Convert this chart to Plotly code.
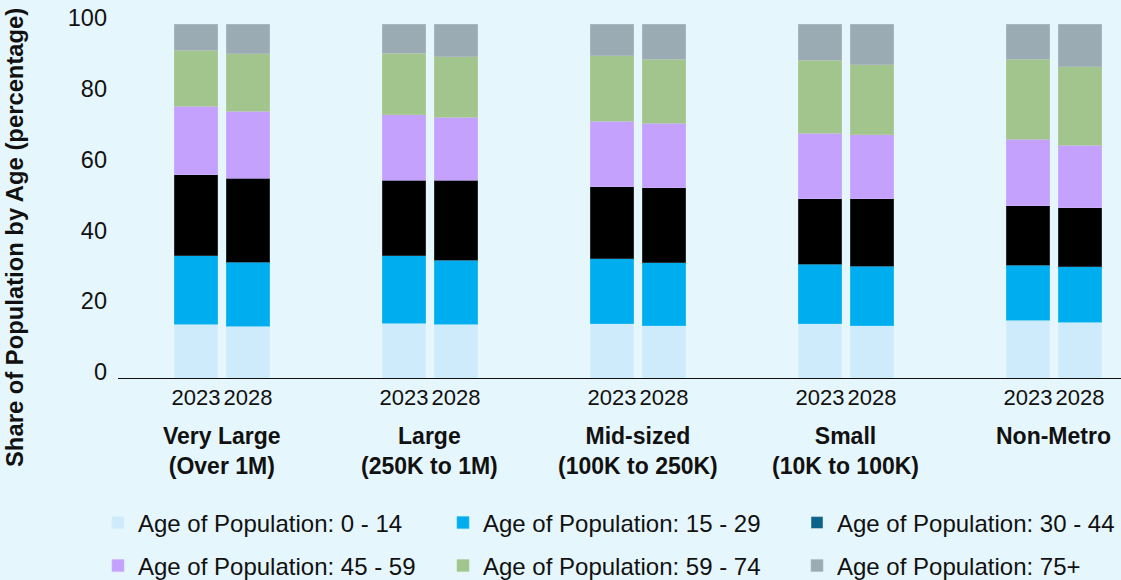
import plotly.graph_objects as go

# ---- data ----
groups = ["Very Large<br>(Over 1M)", "Large<br>(250K to 1M)", "Mid-sized<br>(100K to 250K)",
          "Small<br>(10K to 100K)", "Non-Metro"]
years = ["2023", "2028"]
series_names = ["Age of Population: 0 - 14", "Age of Population: 15 - 29",
                "Age of Population: 30 - 44", "Age of Population: 45 - 59",
                "Age of Population: 59 - 74", "Age of Population: 75+"]
# order: VL23, VL28, L23, L28, M23, M28, S23, S28, NM23, NM28
age_0_14 = [15.2, 14.6, 15.5, 15.2, 15.3, 14.7, 15.3, 14.7, 16.3, 15.8]
age_15_29 = [19.3, 18.1, 19.0, 18.0, 18.4, 17.8, 16.8, 16.8, 15.5, 15.6]
age_30_44 = [22.9, 23.7, 21.4, 22.7, 20.3, 21.3, 18.6, 19.2, 16.8, 16.7]
age_45_59 = [19.3, 18.9, 18.4, 17.8, 18.6, 18.2, 18.5, 18.0, 18.9, 17.7]
age_59_74 = [15.9, 16.3, 17.4, 17.0, 18.4, 18.0, 20.5, 19.8, 22.6, 22.1]
age_75_plus = [7.4, 8.4, 8.3, 9.3, 9.0, 10.0, 10.2, 11.5, 9.9, 12.1]
y_ticks = [0, 20, 40, 60, 80, 100]

series_values = [age_0_14, age_15_29, age_30_44, age_45_59, age_59_74, age_75_plus]
bar_colors = ["#cdebfb", "#00aeef", "#000000", "#c3a1fd", "#a2c48d", "#9babb3"]
legend_colors = ["#cdebfb", "#00aeef", "#0b6288", "#c3a1fd", "#a2c48d", "#9babb3"]
edge_colors = ["#d8f0fc", "#33bff2", "#3a4a55", "#d0b6fd", "#b4d0a2", "#b0bec5"]

GAP = 4  # slot spacing between groups
xpos = [g * GAP + j for g in range(len(groups)) for j in range(len(years))]
xlabels = [yr for g in groups for yr in years]

FONT = "Liberation Sans, Arial, Helvetica, sans-serif"
BG = "#e6f6fd"
W, H = 1121, 580
ML, MT, MB = 118, 24, 202
PW, PH = W - ML, H - MT - MB

# legend layout: 3 columns x 2 rows (pixel anchors of each entry)
LEG_X = [98, 443, 797]
LEG_Y = [523, 566]

fig = go.Figure()
legend_layouts = {}
for i, (name, vals) in enumerate(zip(series_names, series_values)):
    lg = "legend" if i == 0 else f"legend{i + 1}"
    col, row = i % 3, i // 3
    legend_layouts[lg] = dict(
        orientation="h", xref="container", yref="container",
        x=LEG_X[col] / W, y=1 - LEG_Y[row] / H, xanchor="left", yanchor="middle",
        font=dict(size=24), bgcolor="rgba(0,0,0,0)",
    )
    fig.add_trace(go.Bar(
        x=xpos, y=vals, name=name, width=0.83,
        marker=dict(color=bar_colors[i], line=dict(color=edge_colors[i], width=0.6)),
        legend=lg, legendgroup=name,
        showlegend=(bar_colors[i] == legend_colors[i]),
    ))
    if bar_colors[i] != legend_colors[i]:
        fig.add_trace(go.Bar(
            x=[None], y=[None], name=name,
            marker=dict(color=legend_colors[i]),
            legend=lg, legendgroup=name, showlegend=True,
        ))

fig.update_layout(
    barmode="stack",
    width=W, height=H,
    margin=dict(l=ML, r=0, t=MT, b=MB),
    paper_bgcolor=BG, plot_bgcolor=BG,
    font=dict(family=FONT, size=23, color="#111111"),
    xaxis=dict(
        range=[-1.5, 17.79],
        tickmode="array", tickvals=xpos, ticktext=xlabels, tickangle=0,
        showgrid=False, zeroline=False,
        showline=True, linecolor="#111111", linewidth=1,
        ticks="", tickfont=dict(size=22),
    ),
    yaxis=dict(
        range=[0, 100], tickmode="array", tickvals=y_ticks,
        showgrid=False, zeroline=False, showline=False,
        ticks="", ticklabelstandoff=10, ticklabelshift=-6, tickfont=dict(size=23.5),
    ),
    showlegend=True,
    **legend_layouts,
)

# group labels under the year labels
for g, label in enumerate(groups):
    center = g * GAP + (len(years) - 1) / 2
    fig.add_annotation(
        x=center, xref="x", y=(378 - 421) / PH, yref="paper",
        text=label, showarrow=False, xanchor="center", yanchor="top",
        font=dict(size=23, weight="bold", family=FONT, color="#111111"),
    )

# y-axis title
fig.add_annotation(
    x=(14 - ML) / PW, xref="paper", y=(378 - 238) / PH, yref="paper",
    text="Share of Population by Age (percentage)", textangle=-90,
    showarrow=False, xanchor="center", yanchor="middle",
    font=dict(size=23.8, weight="bold", family=FONT, color="#111111"),
)

fig.write_html("out.html", config={"displayModeBar": False},
               post_script="document.body.style.margin='0';document.body.style.overflow='hidden';")
